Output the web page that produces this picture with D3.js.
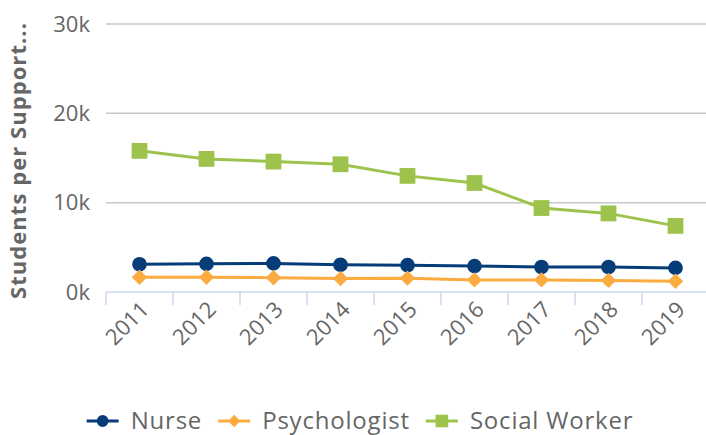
<!DOCTYPE html>
<meta charset="utf-8">
<script src="https://d3js.org/d3.v7.min.js"></script>
<style>
  body { margin: 0; background: #fff; }
  text { font-family: "Open Sans", sans-serif; fill: #666; }
</style>
<body>
<div id="chart"></div>
</body>
<script>
// data
var years = ["2011", "2012", "2013", "2014", "2015", "2016", "2017", "2018", "2019"];
var nurse = [3100, 3150, 3200, 3050, 3000, 2900, 2800, 2800, 2700];
var psychologist = [1650, 1650, 1600, 1500, 1550, 1350, 1350, 1300, 1200];
var socialWorker = [15800, 14900, 14600, 14300, 13000, 12200, 9400, 8800, 7400];
var yTicks = [0, 10000, 20000, 30000];

var series = [
  { name: "Nurse", values: nurse, color: "#063c78", symbol: "circle" },
  { name: "Psychologist", values: psychologist, color: "#fbab3f", symbol: "diamond" },
  { name: "Social Worker", values: socialWorker, color: "#9dc34c", symbol: "square" }
];

var W = 706, H = 435;
var margin = { top: 24, right: 0, bottom: 143, left: 106 };
var width = W - margin.left - margin.right,
    height = H - margin.top - margin.bottom;

var svg = d3.select("#chart").append("svg")
    .attr("width", W)
    .attr("height", H);

var g = svg.append("g")
    .attr("transform", "translate(" + margin.left + "," + margin.top + ")");

var x = d3.scaleBand().domain(years).range([0, 603]);
var y = d3.scaleLinear().domain([0, 30000]).range([height, 0]);

// grid lines
g.selectAll(".grid")
  .data(yTicks.filter(function(d) { return d > 0; }))
  .enter().append("line")
    .attr("x1", 0).attr("x2", width)
    .attr("y1", function(d) { return y(d); })
    .attr("y2", function(d) { return y(d); })
    .attr("stroke", "#c8c8c8")
    .attr("stroke-width", 1.5);

// y labels
g.selectAll(".ylab")
  .data(yTicks)
  .enter().append("text")
    .attr("x", -16)
    .attr("y", function(d) { return y(d); })
    .attr("dy", "0.35em")
    .attr("text-anchor", "end")
    .style("font-size", "22px")
    .text(function(d) { return (d / 1000) + "k"; });

// x axis line + ticks
g.append("line")
    .attr("x1", 0).attr("x2", width)
    .attr("y1", height).attr("y2", height)
    .attr("stroke", "#ccd6eb").attr("stroke-width", 1.5);
var tickPos = years.map(function(d) { return x(d); }).concat([x.range()[1]]);
g.selectAll(".xtick")
  .data(tickPos)
  .enter().append("line")
    .attr("x1", function(d) { return d; })
    .attr("x2", function(d) { return d; })
    .attr("y1", height).attr("y2", height + 13)
    .attr("stroke", "#ccd6eb").attr("stroke-width", 1.5);

g.selectAll(".xlab")
  .data(years)
  .enter().append("text")
    .attr("text-anchor", "end")
    .attr("transform", function(d) {
      return "translate(" + (x(d) + x.bandwidth() / 2) + "," + (height + 8) + ") rotate(-45)";
    })
    .attr("dy", "0.7em")
    .style("font-size", "22px")
    .text(function(d) { return d; });

// y axis title
svg.append("text")
    .attr("transform", "translate(26," + 161 + ") rotate(-90)")
    .attr("text-anchor", "middle")
    .attr("textLength", 276)
    .attr("lengthAdjust", "spacing")
    .style("font-size", "22px")
    .style("font-weight", "bold")
    .text("Students per Support...");

var line = d3.line()
    .x(function(d, i) { return x(years[i]) + x.bandwidth() / 2; })
    .y(function(d) { return y(d); });

function symbolFor(s) {
  if (s === "circle") return d3.symbol().type(d3.symbolCircle).size(170)();
  if (s === "square") return d3.symbol().type(d3.symbolSquare).size(250)();
  return d3.symbol().type(d3.symbolDiamond2).size(150)();
}

series.forEach(function(s) {
  g.append("path")
      .datum(s.values)
      .attr("fill", "none")
      .attr("stroke", s.color)
      .attr("stroke-width", 3)
      .attr("d", line);
  g.selectAll(".pt-" + s.symbol)
    .data(s.values)
    .enter().append("path")
      .attr("d", symbolFor(s.symbol))
      .attr("fill", s.color)
      .attr("transform", function(d, i) {
        return "translate(" + (x(years[i]) + x.bandwidth() / 2) + "," + y(d) + ")";
      });
});

// legend
var legendY = 421;
var legend = svg.append("g");
var cx = 0;
series.forEach(function(s) {
  var item = legend.append("g").attr("transform", "translate(" + cx + ",0)");
  item.append("line")
      .attr("x1", 0).attr("x2", 32)
      .attr("stroke", s.color).attr("stroke-width", 3);
  item.append("path")
      .attr("d", symbolFor(s.symbol))
      .attr("fill", s.color)
      .attr("transform", "translate(16,0) scale(0.8)");
  var t = item.append("text")
      .attr("x", 44)
      .attr("dy", "0.35em")
      .style("font-size", "24px")
      .style("letter-spacing", "0.8px")
      .text(s.name);
  cx += 44 + t.node().getComputedTextLength() + 16;
});
var total = cx - 16;
legend.attr("transform", "translate(" + (360 - total / 2) + "," + legendY + ")");
</script>
